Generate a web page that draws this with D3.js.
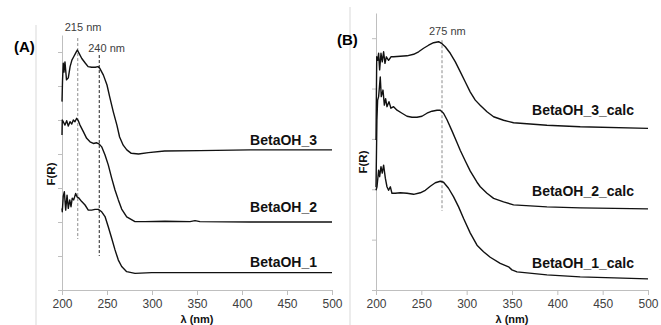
<!DOCTYPE html>
<html>
<head>
<meta charset="utf-8">
<script src="https://cdn.jsdelivr.net/npm/d3@7"></script>
<style>
  body { margin: 0; background: #fff; }
  svg { font-family: "Liberation Sans", Arial, sans-serif; }
  .tick text { fill: #404040; font-size: 12px; }
  .axis path, .axis line { stroke: #bfbfbf; }
</style>
</head>
<body>
<svg id="chart" width="661" height="325"></svg>
<script>
// x ticks (nm)
const xTicks = [200, 250, 300, 350, 400, 450, 500];

// panel A: measured spectra, F(R) stacked (arbitrary units)
const wlA3 = [200, 200.6, 201.4, 202.2, 203.3, 205, 207, 209, 211, 213, 215, 217, 219, 222, 226, 229, 233, 237, 240, 242, 246, 250, 253, 257, 261, 264, 268, 272, 277, 285, 296, 314, 353, 409, 500];
const fA3 = [5.54, 6.18, 6.67, 6.41, 6.71, 6.18, 6.24, 6.57, 6.76, 6.86, 6.96, 7.06, 6.96, 6.81, 6.67, 6.57, 6.55, 6.55, 6.57, 6.52, 6.32, 6.03, 5.68, 5.24, 4.85, 4.50, 4.26, 4.12, 4.02, 4.00, 4.04, 4.09, 4.10, 4.12, 4.12];

const wlA2 = [200, 200.3, 201.4, 203.3, 205.2, 207, 208.9, 210.8, 212.6, 214.4, 216.3, 218.1, 220, 223.7, 227.4, 231.1, 234.8, 238.6, 241.4, 244.1, 247.8, 251.4, 255.2, 258.9, 262.6, 266.3, 271.9, 281.1, 292.2, 314.4, 342.2, 347.8, 353.3, 408.9, 500];
const fA2 = [4.56, 5.00, 4.95, 4.85, 4.98, 4.82, 4.95, 4.88, 5.00, 4.95, 5.05, 4.98, 4.85, 4.66, 4.46, 4.36, 4.31, 4.33, 4.29, 4.21, 3.97, 3.68, 3.29, 2.94, 2.65, 2.38, 2.15, 2.01, 2.01, 2.02, 2.01, 2.04, 2.01, 2.00, 2.00];

const wlA1 = [200, 200.3, 201.4, 202.6, 204.1, 205.6, 207, 208.6, 210, 211.4, 213, 215.2, 216.7, 218.9, 221.9, 225.6, 229.2, 233, 236.7, 240.3, 244.1, 247.8, 251.4, 255.2, 258.9, 262.6, 266.3, 271.9, 281.1, 299.7, 314.4, 408.9, 500];
const fA1 = [2.40, 2.30, 2.76, 2.89, 2.35, 2.79, 2.40, 2.65, 2.45, 2.70, 2.65, 2.84, 2.74, 2.70, 2.60, 2.50, 2.35, 2.35, 2.37, 2.37, 2.30, 2.16, 1.86, 1.52, 1.18, 0.88, 0.69, 0.54, 0.49, 0.51, 0.51, 0.51, 0.51];

// panel B: calculated spectra
const wlB3 = [200, 200.8, 201.8, 202.9, 204, 205.5, 206.9, 208.4, 209.9, 211.4, 213.9, 216.5, 219.4, 226.8, 234.2, 241.5, 247, 252.5, 258, 263.5, 269, 272.8, 276.4, 281.9, 287.5, 293, 298.5, 304, 309.5, 314.9, 322.4, 329.7, 340.7, 351.7, 388.5, 425.2, 500];
const fB3 = [2.98, 4.63, 4.56, 4.70, 4.37, 4.70, 4.53, 4.73, 4.50, 4.63, 4.56, 4.63, 4.63, 4.64, 4.65, 4.68, 4.73, 4.80, 4.86, 4.91, 4.93, 4.89, 4.83, 4.70, 4.53, 4.33, 4.13, 3.93, 3.77, 3.67, 3.54, 3.44, 3.37, 3.32, 3.27, 3.24, 3.21];

const wlB2 = [200, 201, 201.8, 202.9, 204.7, 205.8, 207.7, 209.2, 210.6, 212.1, 214.3, 216.5, 219.4, 223.2, 228.7, 234.2, 239.7, 245.2, 250.7, 256.2, 261.7, 267.3, 270.9, 274.5, 278.3, 283.8, 289.3, 293, 298.5, 304, 311.4, 315, 322.4, 329.7, 340.7, 351.7, 388.5, 425.2, 500];
const fB2 = [2.04, 3.37, 3.77, 3.84, 4.23, 3.84, 3.97, 3.67, 3.80, 3.64, 3.74, 3.61, 3.64, 3.57, 3.51, 3.45, 3.43, 3.43, 3.45, 3.51, 3.55, 3.57, 3.57, 3.51, 3.38, 3.16, 2.93, 2.77, 2.56, 2.36, 2.14, 2.05, 1.92, 1.82, 1.75, 1.69, 1.65, 1.63, 1.61];

const wlB1 = [200, 201.1, 202.9, 204, 205.5, 206.9, 208.4, 210.3, 212.1, 213.9, 215.8, 217.6, 221.3, 226.8, 234.2, 241.5, 248.8, 254.4, 259.9, 265.4, 270.9, 274.5, 280, 285.6, 291.1, 296.6, 304, 311.4, 318.6, 326, 337, 346.2, 349.9, 355.5, 388.5, 425.2, 500];
const fB1 = [1.98, 2.05, 2.38, 2.25, 2.45, 2.32, 2.48, 2.22, 2.05, 1.98, 2.05, 1.92, 1.92, 1.93, 1.92, 1.90, 1.93, 1.98, 2.06, 2.13, 2.16, 2.14, 2.02, 1.85, 1.65, 1.42, 1.13, 0.89, 0.76, 0.65, 0.53, 0.46, 0.40, 0.36, 0.30, 0.26, 0.22];

const labelsA = ["BetaOH_3", "BetaOH_2", "BetaOH_1"];
const labelYA = [4.26, 2.28, 0.69];
const labelsB = ["BetaOH_3_calc", "BetaOH_2_calc", "BetaOH_1_calc"];
const labelYB = [3.47, 1.86, 0.44];

// peak markers: [label, wavelength, y from, y to]
const peaksA = [["215 nm", 217.5, 1.5, 7.41], ["240 nm", 241.4, 1.0, 6.91]];
const peaksB = [["275 nm", 272.8, 1.57, 4.96]];

const svg = d3.select("#chart");

function panel(o) {
  const x = d3.scaleLinear().domain([200, 500]).range(o.xr);
  const y = d3.scaleLinear().domain([0, o.ymax]).range([290, o.ytop]);
  const g = svg.append("g");

  // chart frame edge
  g.append("line")
    .attr("x1", o.frameX).attr("x2", o.frameX)
    .attr("y1", o.frameTop).attr("y2", 325)
    .attr("stroke", "#d9d9d9");

  g.append("g").attr("class", "axis")
    .attr("transform", "translate(0,290)")
    .call(d3.axisBottom(x).tickValues(xTicks).tickSize(5).tickSizeOuter(0).tickPadding(4));

  g.append("g").attr("class", "axis")
    .attr("transform", `translate(${o.xr[0]},0)`)
    .call(d3.axisLeft(y).tickValues(d3.range(0, Math.floor(o.ymax) + 1)).tickFormat("").tickSize(4).tickSizeOuter(0));

  // dashed peak lines
  o.peaks.forEach((p, i) => {
    g.append("line")
      .attr("x1", x(p[1])).attr("x2", x(p[1]))
      .attr("y1", y(p[3])).attr("y2", y(p[2]))
      .attr("stroke", o.peakColor[i]).attr("stroke-width", 1)
      .attr("stroke-dasharray", "3,2");
    g.append("text")
      .attr("x", x(p[1]) + o.peakDx[i])
      .attr("y", o.peakTextY[i])
      .attr("font-size", 11)
      .attr("fill", "#404040")
      .text(p[0]);
  });

  const line = d3.line().x(d => x(d[0])).y(d => y(d[1]));
  o.series.forEach(s => {
    g.append("path")
      .datum(d3.zip(s[0], s[1]))
      .attr("d", line)
      .attr("fill", "none")
      .attr("stroke", "#111")
      .attr("stroke-width", 1.4)
      .attr("stroke-linejoin", "round");
  });

  o.labels.forEach((t, i) => {
    g.append("text")
      .attr("x", o.labelX)
      .attr("y", y(o.labelY[i]))
      .attr("text-anchor", "end")
      .attr("font-size", 14)
      .attr("font-weight", "bold")
      .attr("fill", "#111")
      .text(t);
  });

  g.append("text")
    .attr("transform", `translate(${o.fx},${o.fy}) rotate(-90)`)
    .attr("text-anchor", "middle")
    .attr("font-size", 11.5)
    .attr("font-weight", "bold")
    .attr("fill", "#111")
    .text("F(R)");

  g.append("text")
    .attr("x", x(350)).attr("y", 322.5)
    .attr("text-anchor", "middle")
    .attr("font-size", 11)
    .attr("font-weight", "bold")
    .attr("fill", "#111")
    .text("λ (nm)");

  g.append("text")
    .attr("x", o.tagX).attr("y", o.tagY)
    .attr("font-size", 15)
    .attr("font-weight", "bold")
    .attr("fill", "#000")
    .text(o.tag);
}

panel({
  xr: [62, 332], ymax: 7.5, ytop: 35, frameX: 36, frameTop: 25,
  series: [[wlA3, fA3], [wlA2, fA2], [wlA1, fA1]],
  labels: labelsA, labelY: labelYA, labelX: 317,
  peaks: peaksA, peakColor: ["#8c8c8c", "#222"], peakDx: [-13, -11], peakTextY: [30.5, 52],
  fx: 55, fy: 174, tag: "(A)", tagX: 14, tagY: 52
});

panel({
  xr: [376, 648], ymax: 5.5, ytop: 13, frameX: 350, frameTop: 7,
  series: [[wlB3, fB3], [wlB2, fB2], [wlB1, fB1]],
  labels: labelsB, labelY: labelYB, labelX: 634,
  peaks: peaksB, peakColor: ["#8c8c8c"], peakDx: [-13], peakTextY: [35],
  fx: 367, fy: 162, tag: "(B)", tagX: 337, tagY: 45
});
</script>
</body>
</html>
